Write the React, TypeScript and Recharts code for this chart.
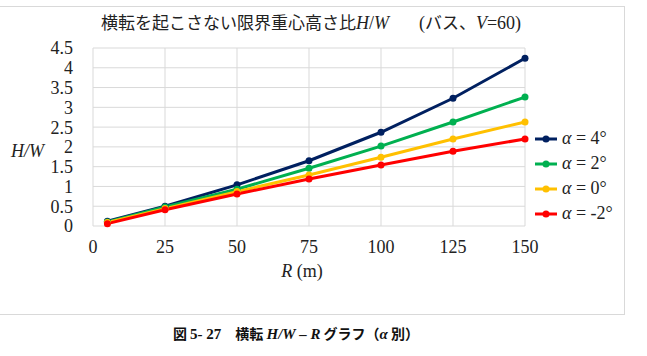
import { CartesianGrid, Line, LineChart, XAxis, YAxis } from 'recharts'

const radius = [5, 25, 50, 75, 100, 125, 150]
const alpha4 = [0.12, 0.5, 1.04, 1.65, 2.37, 3.23, 4.24]
const alpha2 = [0.1, 0.48, 0.93, 1.46, 2.02, 2.63, 3.26]
const alpha0 = [0.09, 0.44, 0.87, 1.29, 1.74, 2.2, 2.63]
const alphaM2 = [0.06, 0.41, 0.81, 1.19, 1.54, 1.89, 2.2]
const xTicks = [0, 25, 50, 75, 100, 125, 150]
const yTicks = [0, 0.5, 1, 1.5, 2, 2.5, 3, 3.5, 4, 4.5]

const series = [
  { key: 'a4', label: '4°', color: '#002060', values: alpha4 },
  { key: 'a2', label: '2°', color: '#00B050', values: alpha2 },
  { key: 'a0', label: '0°', color: '#FFC000', values: alpha0 },
  { key: 'am2', label: '-2°', color: '#FF0000', values: alphaM2 },
]

const data = radius.map((r, i) => {
  const row: Record<string, number> = { r }
  series.forEach((s) => {
    row[s.key] = s.values[i]
  })
  return row
})

const serif = '"Liberation Serif", "Times New Roman", serif'
const jp = '"Noto Sans CJK JP", sans-serif'

function LegendBox() {
  return (
    <div
      style={{
        position: 'absolute',
        left: 535,
        top: 126,
        fontFamily: serif,
        fontSize: 18,
        color: '#222',
      }}
    >
      {series.map((s) => (
        <div
          key={s.key}
          style={{ display: 'flex', alignItems: 'center', height: 25 }}
        >
          <svg width={22} height={10} style={{ marginRight: 5 }}>
            <line x1={0} y1={5} x2={22} y2={5} stroke={s.color} strokeWidth={3} />
            <circle cx={11} cy={5} r={3.5} fill={s.color} />
          </svg>
          <span style={{ whiteSpace: 'nowrap', fontFamily: serif }}>
            <i>α</i> = {s.label}
          </span>
        </div>
      ))}
    </div>
  )
}

export default function App() {
  return (
    <div
      style={{
        position: 'absolute',
        left: 0,
        top: 0,
        width: 647,
        height: 356,
        background: '#fff',
      }}
    >
      <div
        style={{
          position: 'absolute',
          left: -2,
          top: 6,
          width: 625,
          height: 307,
          border: '1px solid #d9d9d9',
        }}
      />
      <div
        style={{
          position: 'absolute',
          left: 0,
          top: 9,
          width: 622,
          textAlign: 'center',
          fontSize: 17,
          fontFamily: jp,
          color: '#222',
          whiteSpace: 'nowrap',
        }}
      >
        横転を起こさない限界重心高さ比
        <i style={{ fontFamily: serif, fontSize: 18 }}>H</i>
        <span style={{ fontFamily: serif, fontSize: 18 }}>/</span>
        <i style={{ fontFamily: serif, fontSize: 18 }}>W</i>
        <span style={{ display: 'inline-block', width: 30 }} />
        <span style={{ fontFamily: serif, fontSize: 18 }}>(</span>
        バス、
        <i style={{ fontFamily: serif, fontSize: 18 }}>V</i>
        <span style={{ fontFamily: serif, fontSize: 18 }}>=60)</span>
      </div>
      <div
        style={{
          position: 'absolute',
          left: 11,
          top: 141,
          fontFamily: serif,
          fontStyle: 'italic',
          fontSize: 18,
          color: '#222',
        }}
      >
        H/W
      </div>
      <div
        style={{
          position: 'absolute',
          left: 0,
          top: 261,
          width: 604,
          textAlign: 'center',
          fontFamily: serif,
          fontSize: 18,
          color: '#222',
        }}
      >
        <i>R</i> (m)
      </div>
      <div
        style={{
          position: 'absolute',
          left: 0,
          top: 323,
          width: 592,
          textAlign: 'center',
          fontFamily: jp,
          fontWeight: 'bold',
          fontSize: 14,
          color: '#111',
          whiteSpace: 'nowrap',
        }}
      >
        図 <span style={{ fontFamily: serif, fontSize: 15 }}>5- 27</span>　横転{' '}
        <i style={{ fontFamily: serif, fontSize: 15 }}>H/W – R</i> グラフ（
        <i style={{ fontFamily: serif, fontSize: 15 }}>α</i> 別）
      </div>
      <LineChart
        width={647}
        height={356}
        data={data}
        margin={{ top: 48, right: 122, bottom: 100, left: 0 }}
        style={{ position: 'absolute', left: 0, top: 0 }}
      >
        <CartesianGrid stroke="#d9d9d9" strokeWidth={1} />
        <XAxis
          dataKey="r"
          type="number"
          domain={[0, 150]}
          ticks={xTicks}
          axisLine={false}
          tickLine={false}
          height={30}
          tick={{ fontFamily: serif, fontSize: 18, fill: '#222' }}
          tickMargin={8}
        />
        <YAxis
          type="number"
          domain={[0, 4.5]}
          ticks={yTicks}
          width={93}
          axisLine={false}
          tickLine={false}
          interval={0}
          tick={{ fontFamily: serif, fontSize: 18, fill: '#222' }}
          tickMargin={14}
        />
        {series.map((s) => (
          <Line
            key={s.key}
            dataKey={s.key}
            stroke={s.color}
            strokeWidth={3}
            dot={{ r: 3.5, fill: s.color, stroke: s.color, strokeWidth: 0 }}
            activeDot={false}
            isAnimationActive={false}
          />
        ))}
      </LineChart>
      <LegendBox />
    </div>
  )
}
